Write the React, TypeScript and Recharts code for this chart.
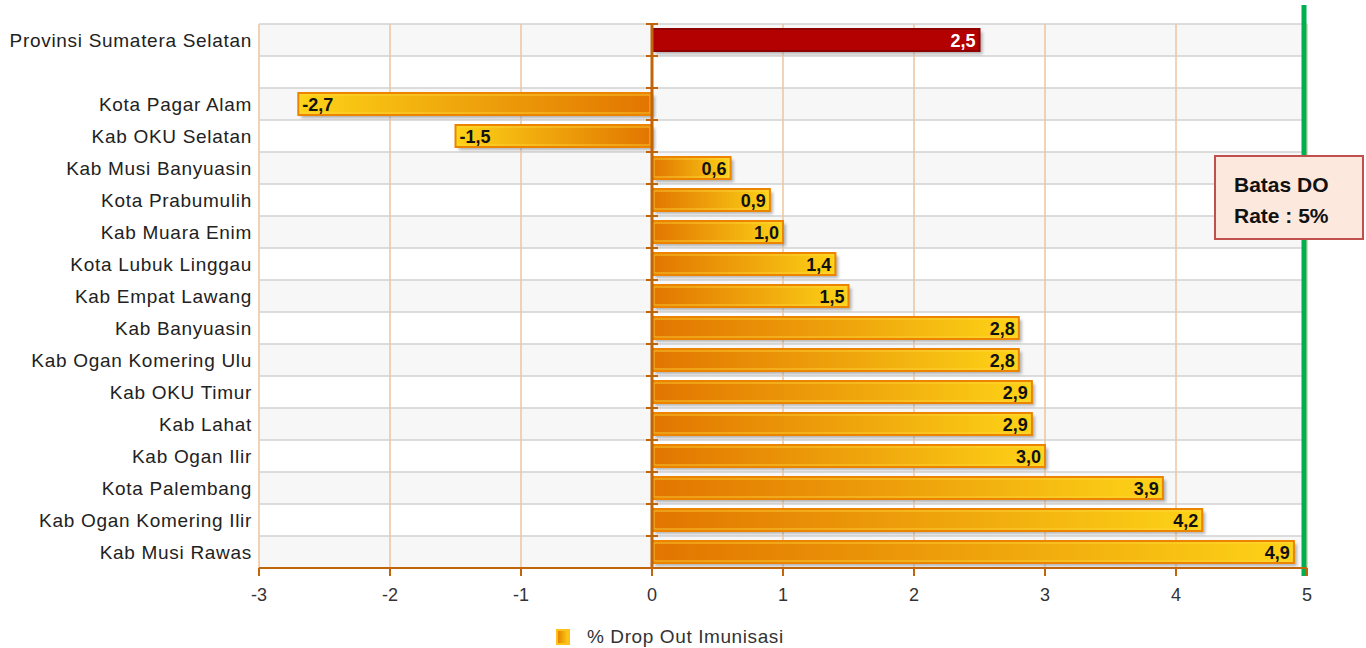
import React from "react";
import {
  BarChart,
  Bar,
  XAxis,
  YAxis,
  CartesianGrid,
  ReferenceLine,
  Legend,
} from "recharts";

const districts = [
  "Provinsi Sumatera Selatan",
  "",
  "Kota Pagar Alam",
  "Kab OKU Selatan",
  "Kab Musi Banyuasin",
  "Kota Prabumulih",
  "Kab Muara Enim",
  "Kota Lubuk Linggau",
  "Kab Empat Lawang",
  "Kab Banyuasin",
  "Kab Ogan Komering Ulu",
  "Kab OKU Timur",
  "Kab Lahat",
  "Kab Ogan Ilir",
  "Kota Palembang",
  "Kab Ogan Komering Ilir",
  "Kab Musi Rawas",
];

const dropOutRates: (number | null)[] = [
  2.5, null, -2.7, -1.5, 0.6, 0.9, 1.0, 1.4, 1.5, 2.8, 2.8, 2.9, 2.9, 3.0,
  3.9, 4.2, 4.9,
];

const xTicks = [-3, -2, -1, 0, 1, 2, 3, 4, 5];
const doLimit = 5;
const seriesName = "% Drop Out Imunisasi";

const data = districts.map((name, i) => ({
  name,
  value: dropOutRates[i],
  province: name.startsWith("Provinsi"),
}));

const FONT = '"Liberation Sans", Arial, sans-serif';
const AXIS_BROWN = "#c0650a";

const fmt = (v: number) => v.toFixed(1).replace(".", ",");

// row borders, one per category band
const rowBoundaries = (top: number, height: number) => {
  const step = height / data.length;
  return data.map((_, i) => top + i * step).concat(top + height);
};

const DropBar = (props: any) => {
  const { x, y, width, height, payload } = props;
  const v = payload?.value;
  if (v == null || !height) return null;
  const left = Math.min(x, x + width);
  const w = Math.abs(width);
  const neg = v < 0;
  const fill = payload.province
    ? "#b30000"
    : neg
    ? "url(#gradNeg)"
    : "url(#gradPos)";
  const stroke = payload.province ? "#8c0000" : "#ec8400";
  return (
    <g>
      <rect
        x={left + 3}
        y={y + 3}
        width={w}
        height={height}
        fill="#777"
        opacity={0.55}
        filter="url(#barBlur)"
      />
      <rect
        x={left}
        y={y}
        width={w}
        height={height}
        fill={fill}
        stroke={stroke}
        strokeWidth={2}
      />
      {!payload.province && w > 6 && (
        <rect
          x={left + 2}
          y={y + 2}
          width={w - 4}
          height={height - 4}
          fill="none"
          stroke="#ffd83a"
          strokeWidth={1}
          opacity={0.8}
        />
      )}
      <text
        x={neg ? left + 4 : left + w - 4}
        y={y + height / 2 + 1}
        textAnchor={neg ? "start" : "end"}
        dominantBaseline="central"
        fontFamily={FONT}
        fontWeight="bold"
        fontSize={18}
        fill={payload.province ? "#fff" : "#111"}
      >
        {fmt(v)}
      </text>
    </g>
  );
};

const ZeroAxis = (props: any) => {
  const { x1, y1, y2 } = props;
  const top = Math.min(y1, y2);
  const marks = rowBoundaries(top, Math.abs(y2 - y1));
  return (
    <g>
      <line x1={x1} y1={y1} x2={x1} y2={y2} stroke={AXIS_BROWN} strokeWidth={3} />
      {marks.map((t) => (
        <line
          key={t}
          x1={x1 - 6}
          x2={x1 + 6}
          y1={t}
          y2={t}
          stroke={AXIS_BROWN}
          strokeWidth={2}
        />
      ))}
    </g>
  );
};

const LimitLine = (props: any) => {
  const { x1, y1, y2 } = props;
  return (
    <line
      x1={x1 - 3}
      x2={x1 - 3}
      y1={Math.min(y1, y2) - 19}
      y2={Math.max(y1, y2) + 8}
      stroke="#00b050"
      strokeWidth={5}
    />
  );
};

const renderLegend = (props: any) => {
  const label = props.payload?.[0]?.value ?? seriesName;
  return (
    <div
      style={{
        display: "flex",
        alignItems: "center",
        paddingLeft: 555,
        fontFamily: FONT,
        fontSize: 19,
        letterSpacing: 0.6,
        color: "#333",
      }}
    >
      <svg width={16} height={18}>
        <defs>
          <linearGradient id="legendGrad" x1="0" y1="0" x2="1" y2="0">
            <stop offset="0%" stopColor="#e37b00" />
            <stop offset="100%" stopColor="#fdd317" />
          </linearGradient>
        </defs>
        <rect x={2} y={2} width={12} height={14} fill="url(#legendGrad)" stroke="#ffc21a" strokeWidth={2} />
      </svg>
      <span style={{ marginLeft: 16 }}>{label}</span>
    </div>
  );
};

export default function App() {
  return (
    <div style={{ position: "absolute", left: 0, top: 0, width: 1366, height: 648, background: "#fff" }}>
      <BarChart
        width={1366}
        height={648}
        data={data}
        layout="vertical"
        margin={{ top: 24, right: 59, left: 0, bottom: 0 }}
        barSize={22}
      >
        <defs>
          <linearGradient id="gradPos" x1="0" y1="0" x2="1" y2="0">
            <stop offset="0%" stopColor="#e27500" />
            <stop offset="55%" stopColor="#efa60c" />
            <stop offset="100%" stopColor="#fdd317" />
          </linearGradient>
          <linearGradient id="gradNeg" x1="1" y1="0" x2="0" y2="0">
            <stop offset="0%" stopColor="#e27500" />
            <stop offset="55%" stopColor="#efa60c" />
            <stop offset="100%" stopColor="#fdd317" />
          </linearGradient>
          <filter id="barBlur" x="-10%" y="-50%" width="120%" height="200%">
            <feGaussianBlur stdDeviation="1.5" />
          </filter>
        </defs>
        <CartesianGrid
          vertical={false}
          stroke="#d2d2d2"
          strokeWidth={1.5}
          horizontalFill={["#f7f7f7", "#ffffff"]}
          horizontalCoordinatesGenerator={({ offset }: any) =>
            rowBoundaries(offset.top, offset.height)
          }
        />
        <CartesianGrid horizontal={false} stroke="#ecc6a0" strokeWidth={1.5} />
        <XAxis
          type="number"
          domain={[-3, 5]}
          ticks={xTicks}
          interval={0}
          height={58}
          axisLine={{ stroke: AXIS_BROWN, strokeWidth: 2 }}
          tickLine={{ stroke: AXIS_BROWN, strokeWidth: 2 }}
          tickSize={8}
          tickMargin={12}
          tick={{ fontFamily: FONT, fontSize: 18, fill: "#333" }}
        />
        <YAxis
          type="category"
          dataKey="name"
          width={259}
          axisLine={false}
          tickLine={false}
          tickSize={0}
          tickMargin={7}
          interval={0}
          tick={{ fontFamily: FONT, fontSize: 19, letterSpacing: 0.7, fill: "#222" }}
        />
        <Bar
          dataKey="value"
          name={seriesName}
          shape={DropBar}
          isAnimationActive={false}
        />
        <ReferenceLine x={0} shape={ZeroAxis} />
        <ReferenceLine x={doLimit} shape={LimitLine} />
        <Legend
          verticalAlign="bottom"
          height={22}
          content={renderLegend}
          wrapperStyle={{ left: 0, width: 1366 }}
        />
      </BarChart>
      <div
        style={{
          position: "absolute",
          left: 1214,
          top: 155,
          width: 150,
          height: 85,
          background: "#fce8dc",
          border: "2px solid #c0504d",
          fontFamily: FONT,
          fontWeight: "bold",
          fontSize: 21,
          lineHeight: "31px",
          color: "#111",
          paddingLeft: 18,
          paddingTop: 12,
          boxSizing: "border-box",
        }}
      >
        Batas DO
        <br />
        Rate : 5%
      </div>
    </div>
  );
}
